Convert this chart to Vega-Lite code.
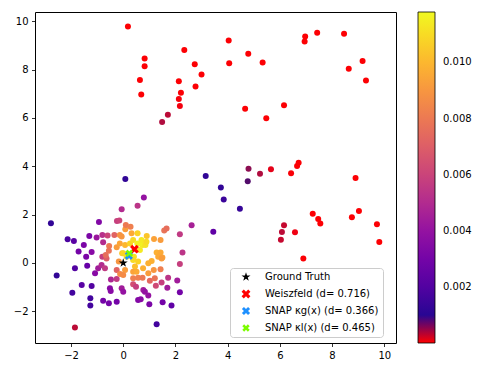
{
  "$schema": "https://vega.github.io/schema/vega-lite/v6.json",
  "autosize": {"type": "none"},
  "padding": {"left": 35, "top": 12, "right": 102, "bottom": 31},
  "width": 361,
  "height": 331,
  "datasets": {
    "pts": [
      {"x": -2.77, "y": 1.64, "v": 0.0012},
      {"x": -2.55, "y": -0.52, "v": 0.0012},
      {"x": -2.13, "y": 0.98, "v": 0.0018},
      {"x": -1.89, "y": 0.91, "v": 0.0022},
      {"x": -1.85, "y": -0.22, "v": 0.002},
      {"x": -1.95, "y": -1.23, "v": 0.0016},
      {"x": -1.85, "y": -2.67, "v": 0.0002},
      {"x": -1.59, "y": -0.91, "v": 0.0022},
      {"x": -1.71, "y": 0.47, "v": 0.003},
      {"x": -1.51, "y": 0.74, "v": 0.0032},
      {"x": -1.42, "y": 0.26, "v": 0.0032},
      {"x": -1.38, "y": -0.12, "v": 0.0026},
      {"x": -1.3, "y": 1.12, "v": 0.0032},
      {"x": -1.21, "y": 0.45, "v": 0.0036},
      {"x": -1.21, "y": -0.95, "v": 0.002},
      {"x": -1.26, "y": -1.46, "v": 0.0016},
      {"x": -1.26, "y": -1.76, "v": 0.0016},
      {"x": -1.08, "y": -0.43, "v": 0.0036},
      {"x": -1.02, "y": 1.05, "v": 0.0042},
      {"x": -0.93, "y": 1.69, "v": 0.0034},
      {"x": -0.96, "y": -0.22, "v": 0.0044},
      {"x": -0.83, "y": -0.08, "v": 0.005},
      {"x": -0.8, "y": 1.16, "v": 0.0052},
      {"x": -0.77, "y": 0.86, "v": 0.005},
      {"x": -0.8, "y": 0.26, "v": 0.0058},
      {"x": -0.7, "y": -0.22, "v": 0.0056},
      {"x": -0.64, "y": 0.19, "v": 0.007},
      {"x": -0.67, "y": 0.33, "v": 0.0076},
      {"x": -0.6, "y": 1.14, "v": 0.006},
      {"x": -0.54, "y": 0.7, "v": 0.008},
      {"x": -0.55, "y": 0.51, "v": 0.0078},
      {"x": -0.77, "y": -1.56, "v": 0.003},
      {"x": -0.55, "y": -1.67, "v": 0.003},
      {"x": -0.25, "y": -1.6, "v": 0.003},
      {"x": -0.51, "y": -1.05, "v": 0.0036},
      {"x": -0.48, "y": -1.16, "v": 0.0036},
      {"x": -0.47, "y": -0.68, "v": 0.0048},
      {"x": -0.25, "y": -0.66, "v": 0.0056},
      {"x": -0.25, "y": -0.29, "v": 0.0072},
      {"x": -0.34, "y": 1.16, "v": 0.0072},
      {"x": -0.24, "y": 1.74, "v": 0.0058},
      {"x": -0.15, "y": 1.76, "v": 0.006},
      {"x": -0.06, "y": 2.22, "v": 0.005},
      {"x": -0.13, "y": 1.16, "v": 0.0088},
      {"x": -0.25, "y": 0.65, "v": 0.0092},
      {"x": -0.13, "y": 0.81, "v": 0.0095},
      {"x": -0.17, "y": 0.06, "v": 0.009},
      {"x": -0.06, "y": 1.09, "v": 0.009},
      {"x": -0.06, "y": -1.05, "v": 0.0044},
      {"x": 0.0, "y": -1.19, "v": 0.004},
      {"x": 0.08, "y": 1.39, "v": 0.0092},
      {"x": 0.1, "y": 1.57, "v": 0.008},
      {"x": 0.28, "y": 1.5, "v": 0.0082},
      {"x": 0.32, "y": 1.23, "v": 0.0096},
      {"x": 0.07, "y": 0.74, "v": 0.01},
      {"x": 0.26, "y": 0.81, "v": 0.0108},
      {"x": 0.38, "y": 0.95, "v": 0.011},
      {"x": -0.04, "y": 0.4, "v": 0.0104},
      {"x": 0.13, "y": 0.33, "v": 0.0112},
      {"x": 0.0, "y": 0.4, "v": 0.0108},
      {"x": 0.13, "y": 0.26, "v": 0.011},
      {"x": 0.41, "y": 0.26, "v": 0.0112},
      {"x": 0.38, "y": 0.12, "v": 0.011},
      {"x": 0.57, "y": 0.06, "v": 0.0108},
      {"x": 0.64, "y": 0.54, "v": 0.0114},
      {"x": 0.74, "y": 0.74, "v": 0.0114},
      {"x": 0.64, "y": 0.81, "v": 0.0116},
      {"x": 0.7, "y": 0.95, "v": 0.0114},
      {"x": 0.85, "y": 0.74, "v": 0.0112},
      {"x": 0.89, "y": 0.88, "v": 0.011},
      {"x": 0.9, "y": 1.12, "v": 0.0104},
      {"x": 0.55, "y": 1.23, "v": 0.0108},
      {"x": 0.54, "y": 0.81, "v": 0.0116},
      {"x": 0.79, "y": 2.71, "v": 0.004},
      {"x": 0.55, "y": 2.37, "v": 0.0054},
      {"x": 1.18, "y": 0.99, "v": 0.0094},
      {"x": 1.43, "y": 0.95, "v": 0.0092},
      {"x": 1.57, "y": 1.34, "v": 0.0078},
      {"x": 1.66, "y": 1.43, "v": 0.0076},
      {"x": 2.17, "y": 1.19, "v": 0.0056},
      {"x": 2.62, "y": 1.56, "v": 0.0046},
      {"x": 2.27, "y": 0.43, "v": 0.0054},
      {"x": 1.28, "y": 0.43, "v": 0.0098},
      {"x": 1.43, "y": 0.43, "v": 0.0096},
      {"x": 1.34, "y": 0.26, "v": 0.0096},
      {"x": 1.5, "y": 0.23, "v": 0.0094},
      {"x": 1.47, "y": 0.19, "v": 0.0092},
      {"x": 0.96, "y": -0.01, "v": 0.0098},
      {"x": 1.09, "y": 0.08, "v": 0.0098},
      {"x": 2.17, "y": -0.04, "v": 0.0058},
      {"x": 0.45, "y": -0.15, "v": 0.0102},
      {"x": 0.38, "y": -0.36, "v": 0.0094},
      {"x": 0.51, "y": -0.36, "v": 0.0096},
      {"x": 0.07, "y": -0.29, "v": 0.0092},
      {"x": 0.0, "y": -0.5, "v": 0.0086},
      {"x": -0.12, "y": -0.46, "v": 0.0086},
      {"x": 0.96, "y": -0.43, "v": 0.0092},
      {"x": 0.76, "y": -0.22, "v": 0.0098},
      {"x": 1.43, "y": -0.26, "v": 0.0082},
      {"x": 1.17, "y": -0.29, "v": 0.009},
      {"x": 0.38, "y": -0.63, "v": 0.0082},
      {"x": 0.57, "y": -0.61, "v": 0.0082},
      {"x": 0.74, "y": -0.61, "v": 0.008},
      {"x": 1.02, "y": -0.74, "v": 0.0074},
      {"x": 1.21, "y": -0.63, "v": 0.0078},
      {"x": 1.72, "y": -0.61, "v": 0.0054},
      {"x": 1.47, "y": -0.81, "v": 0.0058},
      {"x": 1.25, "y": -0.94, "v": 0.0062},
      {"x": 2.07, "y": -0.73, "v": 0.0044},
      {"x": 1.69, "y": -1.02, "v": 0.0044},
      {"x": 0.38, "y": -0.88, "v": 0.0064},
      {"x": 0.49, "y": -0.98, "v": 0.0058},
      {"x": 0.77, "y": -1.12, "v": 0.0044},
      {"x": 0.83, "y": -1.19, "v": 0.004},
      {"x": 0.96, "y": -1.35, "v": 0.004},
      {"x": 2.17, "y": -1.21, "v": 0.003},
      {"x": 0.57, "y": -1.53, "v": 0.0034},
      {"x": 0.67, "y": -1.5, "v": 0.0036},
      {"x": 1.0, "y": -1.71, "v": 0.0032},
      {"x": 1.51, "y": -1.62, "v": 0.003},
      {"x": 1.85, "y": -1.76, "v": 0.0024},
      {"x": 1.28, "y": -2.53, "v": 0.0016},
      {"x": 0.08, "y": 3.47, "v": 0.0012},
      {"x": 3.16, "y": 3.6, "v": 0.0012},
      {"x": 3.74, "y": 3.12, "v": 0.0012},
      {"x": 3.85, "y": 2.62, "v": 0.0014},
      {"x": 4.47, "y": 2.24, "v": 0.0013},
      {"x": 3.45, "y": 1.29, "v": 0.0024},
      {"x": 0.18, "y": 9.78, "v": 0.00002},
      {"x": 0.82, "y": 8.46, "v": 0.00002},
      {"x": 0.82, "y": 8.14, "v": 0.00002},
      {"x": 0.64, "y": 7.57, "v": 0.00002},
      {"x": 0.69, "y": 6.97, "v": 0.00002},
      {"x": 2.34, "y": 8.81, "v": 0.00002},
      {"x": 2.74, "y": 8.22, "v": 0.00002},
      {"x": 3.0, "y": 7.8, "v": 0.00002},
      {"x": 2.13, "y": 7.52, "v": 0.00002},
      {"x": 2.77, "y": 7.3, "v": 0.00002},
      {"x": 2.21, "y": 7.04, "v": 0.00003},
      {"x": 2.13, "y": 6.78, "v": 0.00006},
      {"x": 2.17, "y": 6.49, "v": 0.00008},
      {"x": 1.71, "y": 6.13, "v": 0.0002},
      {"x": 1.49, "y": 5.83, "v": 0.00022},
      {"x": 4.04, "y": 9.2, "v": 0.00002},
      {"x": 4.06, "y": 8.26, "v": 0.00002},
      {"x": 4.67, "y": 6.38, "v": 0.00002},
      {"x": 4.79, "y": 8.65, "v": 0.00002},
      {"x": 5.34, "y": 8.29, "v": 0.00002},
      {"x": 6.97, "y": 9.37, "v": 0.00002},
      {"x": 6.95, "y": 9.16, "v": 0.00002},
      {"x": 7.43, "y": 9.52, "v": 0.00002},
      {"x": 8.46, "y": 9.48, "v": 0.00002},
      {"x": 9.17, "y": 8.35, "v": 0.00002},
      {"x": 8.64, "y": 8.03, "v": 0.00002},
      {"x": 9.3, "y": 7.55, "v": 0.00002},
      {"x": 6.16, "y": 6.52, "v": 0.00002},
      {"x": 5.48, "y": 5.99, "v": 0.00002},
      {"x": 4.8, "y": 3.9, "v": 0.00027},
      {"x": 4.77, "y": 3.38, "v": 0.00033},
      {"x": 5.24, "y": 3.69, "v": 0.00022},
      {"x": 5.66, "y": 3.88, "v": 0.00012},
      {"x": 6.43, "y": 3.71, "v": 0.00004},
      {"x": 6.66, "y": 4.01, "v": 0.00003},
      {"x": 6.72, "y": 4.15, "v": 0.00003},
      {"x": 8.9, "y": 3.51, "v": 0.00002},
      {"x": 7.26, "y": 2.04, "v": 0.00002},
      {"x": 7.47, "y": 1.82, "v": 0.00002},
      {"x": 7.55, "y": 1.63, "v": 0.00002},
      {"x": 9.03, "y": 2.15, "v": 0.00002},
      {"x": 8.76, "y": 1.89, "v": 0.00002},
      {"x": 9.72, "y": 1.6, "v": 0.00002},
      {"x": 9.81, "y": 0.87, "v": 0.00002},
      {"x": 6.16, "y": 1.56, "v": 0.00018},
      {"x": 6.08, "y": 1.28, "v": 0.0002},
      {"x": 6.04, "y": 0.96, "v": 0.00018},
      {"x": 6.58, "y": 1.27, "v": 0.0001},
      {"x": 6.9, "y": 0.19, "v": 0.00003}
    ],
    "marks": [
      {"x": 0.43, "y": 0.57, "name": "Weiszfeld (d= 0.716)"},
      {"x": 0.216, "y": 0.296, "name": "SNAP κg(x) (d= 0.366)"},
      {"x": 0.234, "y": 0.402, "name": "SNAP κl(x) (d= 0.465)"},
      {"x": 0.0, "y": 0.0, "name": "Ground Truth"}
    ]
  },
  "layer": [
    {
      "data": {"name": "pts"},
      "mark": {"type": "circle", "size": 36, "opacity": 1},
      "encoding": {
        "x": {"field": "x", "type": "quantitative"},
        "y": {"field": "y", "type": "quantitative"},
        "color": {
          "field": "v",
          "type": "quantitative",
          "scale": {
            "type": "linear",
            "interpolate": "rgb",
            "domain": [0, 0.0001, 0.00025, 0.0004, 0.00154, 0.00268, 0.00382, 0.00496, 0.0061, 0.00724, 0.00838, 0.00952, 0.01066, 0.0118],
            "range": ["#ff0000", "#f00012", "#a0104a", "#0d0887", "#41049d", "#6a00a8", "#8f0da4", "#b12a90", "#cc4778", "#e16462", "#f2844b", "#fca636", "#fcce25", "#f0f921"]
          },
          "legend": {
            "orient": "none",
            "legendX": 383,
            "legendY": 0,
            "direction": "vertical",
            "title": null,
            "gradientLength": 331,
            "gradientThickness": 17,
            "gradientStrokeColor": "black",
            "gradientStrokeWidth": 0.8,
            "values": [0.002, 0.004, 0.006, 0.008, 0.01],
            "format": ".3f",
            "labelFontSize": 10,
            "labelColor": "black",
            "labelOffset": 8,
            "labelOverlap": false
          }
        }
      }
    },
    {
      "data": {"name": "marks"},
      "mark": {"type": "point", "filled": true, "opacity": 1, "strokeWidth": 0},
      "encoding": {
        "x": {"field": "x", "type": "quantitative"},
        "y": {"field": "y", "type": "quantitative"},
        "shape": {
          "field": "name",
          "type": "nominal",
          "scale": {
            "domain": ["Ground Truth", "Weiszfeld (d= 0.716)", "SNAP κg(x) (d= 0.366)", "SNAP κl(x) (d= 0.465)"],
            "range": [
              "M0,-1L0.2245,-0.309L0.951,-0.309L0.363,0.118L0.588,0.809L0,0.382L-0.588,0.809L-0.363,0.118L-0.951,-0.309L-0.2245,-0.309Z",
              "M-1,-0.5L-0.5,-1L0,-0.5L0.5,-1L1,-0.5L0.5,0L1,0.5L0.5,1L0,0.5L-0.5,1L-1,0.5L-0.5,0Z",
              "M-1,-0.5L-0.5,-1L0,-0.5L0.5,-1L1,-0.5L0.5,0L1,0.5L0.5,1L0,0.5L-0.5,1L-1,0.5L-0.5,0Z",
              "M-1,-0.5L-0.5,-1L0,-0.5L0.5,-1L1,-0.5L0.5,0L1,0.5L0.5,1L0,0.5L-0.5,1L-1,0.5L-0.5,0Z"
            ]
          },
          "legend": {
            "orient": "none",
            "legendX": 195,
            "legendY": 256,
            "title": null,
            "padding": 4,
            "symbolOffset": 7,
            "labelOffset": 14,
            "rowPadding": 7,
            "labelFontSize": 10,
            "labelColor": "black",
            "fillColor": "rgba(255,255,255,0.8)",
            "strokeColor": "#cccccc",
            "cornerRadius": 3,
            "symbolStrokeWidth": 0
          }
        },
        "fill": {
          "field": "name",
          "type": "nominal",
          "scale": {
            "domain": ["Ground Truth", "Weiszfeld (d= 0.716)", "SNAP κg(x) (d= 0.366)", "SNAP κl(x) (d= 0.465)"],
            "range": ["black", "#ff0000", "#1e90ff", "#7cfc00"]
          },
          "legend": {
            "orient": "none",
            "legendX": 195,
            "legendY": 256,
            "title": null,
            "padding": 4,
            "symbolOffset": 7,
            "labelOffset": 14,
            "rowPadding": 7,
            "labelFontSize": 10,
            "labelColor": "black",
            "fillColor": "rgba(255,255,255,0.8)",
            "strokeColor": "#cccccc",
            "cornerRadius": 3,
            "symbolStrokeWidth": 0
          }
        },
        "size": {
          "field": "name",
          "type": "nominal",
          "scale": {
            "domain": ["Ground Truth", "Weiszfeld (d= 0.716)", "SNAP κg(x) (d= 0.366)", "SNAP κl(x) (d= 0.465)"],
            "range": [90, 55, 55, 55]
          },
          "legend": {
            "orient": "none",
            "legendX": 195,
            "legendY": 256,
            "title": null,
            "padding": 4,
            "symbolOffset": 7,
            "labelOffset": 14,
            "rowPadding": 7,
            "labelFontSize": 10,
            "labelColor": "black",
            "fillColor": "rgba(255,255,255,0.8)",
            "strokeColor": "#cccccc",
            "cornerRadius": 3,
            "symbolStrokeWidth": 0
          }
        }
      }
    }
  ],
  "encoding": {
    "x": {
      "field": "x",
      "type": "quantitative",
      "scale": {"domain": [-3.38, 10.45], "nice": false, "zero": false},
      "axis": {"values": [-2, 0, 2, 4, 6, 8, 10], "title": null, "labelExpr": "replace(datum.label, '-', '−')"}
    },
    "y": {
      "field": "y",
      "type": "quantitative",
      "scale": {"domain": [-3.31, 10.38], "nice": false, "zero": false},
      "axis": {"values": [-2, 0, 2, 4, 6, 8, 10], "title": null, "labelExpr": "replace(datum.label, '-', '−')"}
    }
  },
  "config": {
    "font": "DejaVu Sans",
    "view": {"stroke": "black", "strokeWidth": 1},
    "axis": {
      "domain": false,
      "grid": false,
      "ticks": true,
      "tickSize": 3.5,
      "tickColor": "black",
      "tickWidth": 0.8,
      "labelFontSize": 10,
      "labelColor": "black",
      "labelPadding": 3.5,
      "labelFont": "DejaVu Sans"
    },
    "legend": {"labelFont": "DejaVu Sans"}
  }
}
